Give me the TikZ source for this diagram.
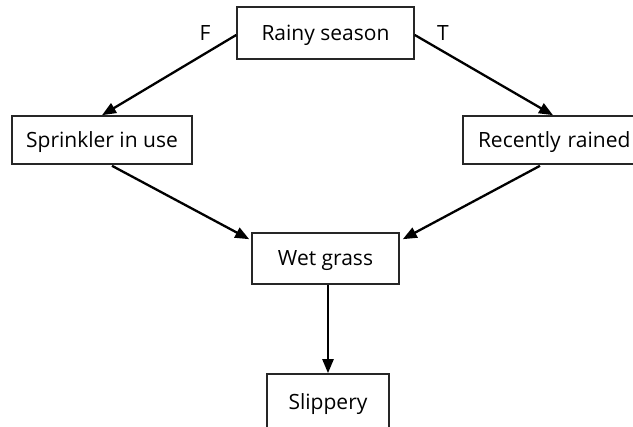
\documentclass[tikz,border=0pt]{standalone}
\usepackage{fontspec}
\setmainfont{Open Sans}
\usetikzlibrary{arrows.meta,calc}
\begin{document}
\begin{tikzpicture}[x=1pt,y=-1pt,
  box/.style={draw=black!85, line width=1.6pt, fill=white, inner sep=0pt,
    text height=15pt, text depth=0pt,
    font=\fontsize{21}{24}\selectfont},
  link/.style={line width=2.3pt, -{Triangle[length=14pt,width=11pt]}},
  lbl/.style={font=\fontsize{21}{24}\selectfont, text height=15pt, text depth=0pt, inner sep=0pt}]
  \clip (0,0) rectangle (633,427);
  \useasboundingbox (0,0) rectangle (633,427);
  % variables of the network
  \node[box, minimum width=177pt, minimum height=52pt] (rain) at (325.5,33) {Rainy season};
  \node[box, minimum width=180pt, minimum height=48pt] (sprink) at (102,140) {Sprinkler in use};
  \node[box, minimum width=180pt, minimum height=48pt, text width=170pt, align=left] (rained) at (553,140) {\hspace*{10pt}Recently rained};
  \node[box, minimum width=147pt, minimum height=51pt] (wet) at (325.5,258.5) {Wet grass};
  \node[box, minimum width=122pt, minimum height=56pt] (slip) at (328,402) {Slippery};
  % branch labels
  \node[lbl] (f) at (205,33) {F};
  \node[lbl] (t) at (443,33) {T};
  % edge end points
  \coordinate (rainL) at ($(rain.west)+(0,2)$);
  \coordinate (rainR) at ($(rain.east)+(0,2)$);
  \coordinate (sprinkOut) at ($(sprink.south)+(10,1)$);
  \coordinate (rainedOut) at ($(rained.south)+(-13,1)$);
  \coordinate (wetInL) at ($(wet.north west)+(-2,7)$);
  \coordinate (wetInR) at ($(wet.north east)+(3,7)$);
  % edges
  \draw[link] (rainL) -- (sprink.north);
  \draw[link] (rainR) -- (rained.north);
  \draw[link] (sprinkOut) -- (wetInL);
  \draw[link] (rainedOut) -- (wetInR);
  \draw[link] (wet.south -| slip.north) -- (slip.north);
\end{tikzpicture}
\end{document}
